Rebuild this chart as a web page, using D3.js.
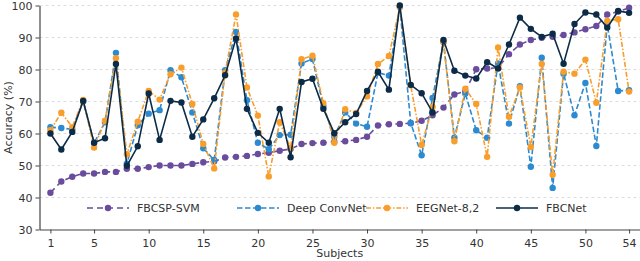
<!DOCTYPE html>
<html>
<head>
<meta charset="utf-8">
<script src="https://cdn.jsdelivr.net/npm/d3@7"></script>
<style>
  body { margin: 0; background: #fff; }
  svg { display: block; font-family: "DejaVu Sans", sans-serif; }
</style>
</head>
<body>
<div id="chart"></div>
<script>
// Subjects 1..54
var subjects = d3.range(1, 55);

var fbcspSvm = [41.5, 45, 46.5, 47.5, 47.5, 48, 48, 49, 49, 49.5,
                50, 50, 50, 50.5, 51, 51.3, 52.5, 52.7, 53, 53.6,
                54, 54.6, 55.2, 56.7, 57, 57.1, 57.4, 57.6, 58, 59,
                62.5, 62.9, 63, 63.2, 64, 65.7, 68.1, 72.2, 73.2, 80.1,
                80.3, 80.6, 84.8, 87.8, 89.2, 89.9, 90.2, 90.8, 91.6, 92.6,
                93.6, 97.2, 98.1, 99.3];

var deepConvNet = [62, 61.7, 61.3, 70, 57, 63.5, 85.2, 50.6, 62.6, 66.2,
                   67.3, 79.8, 77.6, 66.6, 55.4, 51.7, 79.8, 91.7, 70.4, 57.1,
                   55.1, 59.5, 59.6, 81.9, 83.3, 68.5, 59, 66.6, 63.1, 62.1,
                   79, 78.1, 99.6, 63.3, 53.2, 71.1, 88.6, 58.7, 72.5, 61,
                   58.7, 81.9, 63.1, 74.8, 49.6, 83.7, 43, 78.7, 65.7, 75.8,
                   56.1, 94, 73.3, 73.5];

var eegNet = [61, 66.5, 62, 70.5, 55.6, 64, 83.5, 53.5, 63.7, 73.3,
              70.6, 78.5, 80.6, 69.2, 56.7, 49.1, 79, 97.2, 74.4, 65.6,
              46.6, 63.5, 55.5, 83.2, 84.3, 69.5, 57.1, 67.6, 66.4, 71.6,
              81.7, 84.2, 99.5, 75.1, 56.4, 68.3, 88.6, 57.6, 74, 69.2,
              52.7, 86.9, 65.2, 74.4, 55.8, 81.7, 47.1, 79.3, 78.7, 83.1,
              69.6, 95.2, 95.7, 73.1];

var fbcNet = [60, 55, 60.5, 70.2, 57.1, 58.5, 81.7, 49.9, 56, 72.5,
              58, 70.2, 69.7, 59, 64.4, 71, 78.2, 89.7, 67.7, 60.2,
              57.1, 67.7, 52.6, 76.1, 77.1, 67.7, 60.1, 63.5, 66.1, 73.3,
              79.3, 73.7, 100, 75.2, 72.6, 66.6, 89.2, 79.6, 78.1, 77.2,
              82.3, 80.3, 87.8, 96.2, 92.7, 90.2, 91.2, 81.8, 94.2, 97.8,
              97.2, 93.1, 98.3, 97.7];

var xTicks = [1, 5, 10, 15, 20, 25, 30, 35, 40, 45, 50, 54];
var yTicks = [30, 40, 50, 60, 70, 80, 90, 100];

var seriesList = [
  {name: "FBCSP-SVM", values: fbcspSvm, color: "#6a4c9c", dash: "6,4"},
  {name: "Deep ConvNet", values: deepConvNet, color: "#2b8ad0", dash: "5.5,2.5"},
  {name: "EEGNet-8,2", values: eegNet, color: "#f99d2b", dash: "5,1.8,1.5,1.8"},
  {name: "FBCNet", values: fbcNet, color: "#0c2b47", dash: null}
];

var W = 640, H = 261;
var margin = {top: 5.5, right: 0, bottom: 31.5, left: 39.5};
var width = W - margin.left - margin.right;
var height = H - margin.top - margin.bottom;

var svg = d3.select("#chart").append("svg")
  .attr("width", W).attr("height", H);

var g = svg.append("g")
  .attr("transform", "translate(" + margin.left + "," + margin.top + ")");

var xScale = d3.scaleLinear().domain([0, 55]).range([0, width]);
var yScale = d3.scaleLinear().domain([30, 100]).range([height, 0]);

// grid
g.append("g").selectAll("line")
  .data(yTicks.filter(d => d > 30))
  .enter().append("line")
  .attr("x1", 0).attr("x2", width)
  .attr("y1", d => yScale(d)).attr("y2", d => yScale(d))
  .attr("stroke", "#dddddd").attr("stroke-width", 1)
  .attr("stroke-dasharray", "3,3");

// axes
var xAxis = g.append("g")
  .attr("transform", "translate(0," + height + ")")
  .call(d3.axisBottom(xScale).tickValues(xTicks).tickSize(4).tickSizeOuter(0));
var yAxis = g.append("g")
  .call(d3.axisLeft(yScale).tickValues(yTicks).tickSize(4).tickSizeOuter(0));

[xAxis, yAxis].forEach(function(a){
  a.select(".domain").attr("stroke", "#444").attr("stroke-width", 1.2);
  a.selectAll(".tick line").attr("stroke", "#444").attr("stroke-width", 1);
  a.selectAll("text").attr("fill", "#333").style("font-size", "11px")
    .style("font-family", "DejaVu Sans, sans-serif");
});
xAxis.selectAll("text").attr("dy", "0.95em");

// axis labels
svg.append("text")
  .attr("x", margin.left + width / 2).attr("y", 257)
  .attr("text-anchor", "middle").attr("fill", "#333")
  .style("font-size", "11px").text("Subjects");

svg.append("text")
  .attr("transform", "rotate(-90)")
  .attr("x", -(margin.top + height / 2)).attr("y", 12)
  .attr("text-anchor", "middle").attr("fill", "#333")
  .style("font-size", "11px").text("Accuracy (%)");

// lines and markers
var line = d3.line()
  .x((d, i) => xScale(subjects[i]))
  .y(d => yScale(d));

seriesList.forEach(function(s){
  var sg = g.append("g");
  sg.append("path")
    .datum(s.values)
    .attr("fill", "none")
    .attr("stroke", s.color)
    .attr("stroke-width", 1.6)
    .attr("stroke-dasharray", s.dash)
    .attr("d", line);
  sg.selectAll("circle")
    .data(s.values)
    .enter().append("circle")
    .attr("cx", (d, i) => xScale(subjects[i]))
    .attr("cy", d => yScale(d))
    .attr("r", 3.2)
    .attr("fill", s.color);
});

// legend
var legendX = [87, 237, 366, 496];
var legendY = 208;
var legend = svg.append("g");
seriesList.forEach(function(s, i){
  var lg = legend.append("g").attr("transform", "translate(" + legendX[i] + "," + legendY + ")");
  lg.append("line")
    .attr("x1", 0).attr("x2", 42).attr("y1", 0).attr("y2", 0)
    .attr("stroke", s.color).attr("stroke-width", 1.6)
    .attr("stroke-dasharray", s.dash);
  lg.append("circle").attr("cx", 21).attr("cy", 0).attr("r", 3.2).attr("fill", s.color);
  lg.append("text")
    .attr("x", 50).attr("y", 4)
    .attr("fill", "#333")
    .style("font-size", "11px")
    .text(s.name);
});
</script>
</body>
</html>
